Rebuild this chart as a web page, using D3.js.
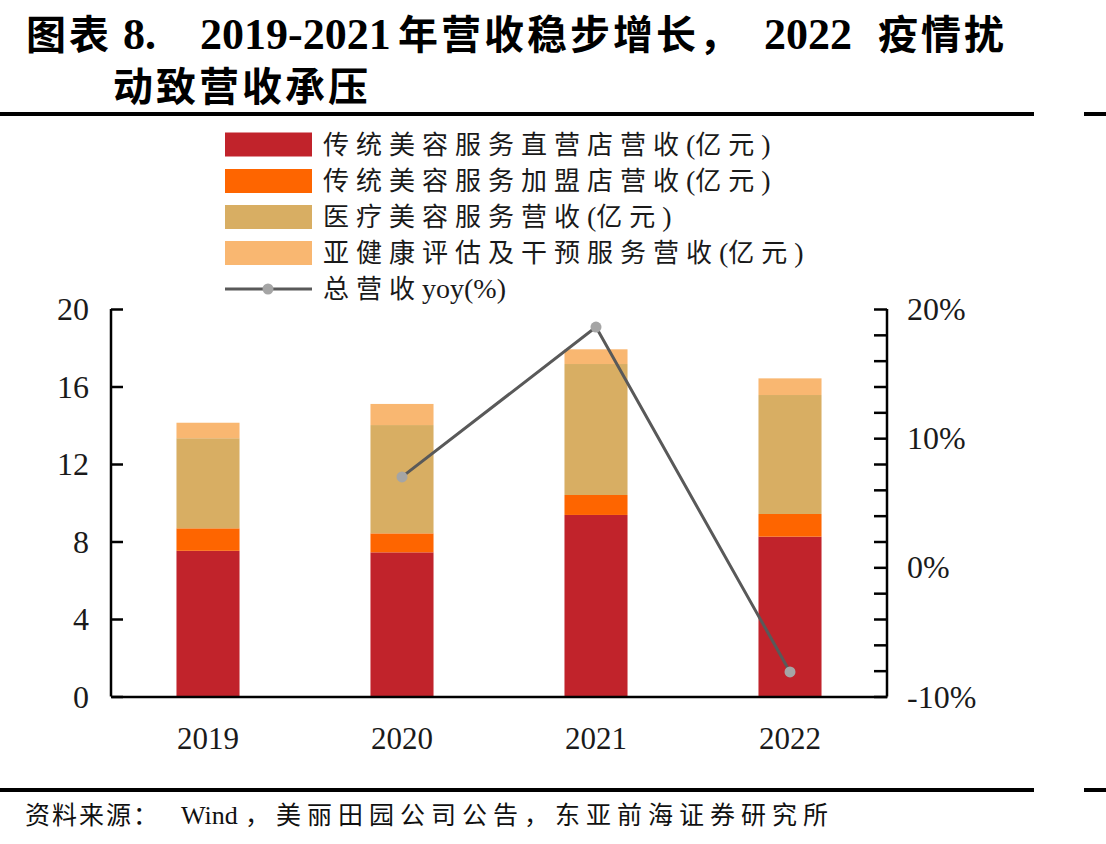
<!DOCTYPE html>
<html>
<head>
<meta charset="utf-8">
<script src="https://cdn.jsdelivr.net/npm/d3@7"></script>
<style>
  body { margin: 0; background: #fff; }
  svg { display: block; }
</style>
</head>
<body>
<svg id="chart" width="1106" height="844"></svg>
<script>
// data
const years = ["2019", "2020", "2021", "2022"];
const directStore = [7.52, 7.44, 9.37, 8.25];
const franchise = [1.16, 0.98, 1.03, 1.17];
const medical = [4.65, 5.59, 6.76, 6.14];
const subHealth = [0.80, 1.09, 0.76, 0.86];
const yoy = [null, 7.0, 18.6, -8.1];

const seriesNames = [
  "传统美容服务直营店营收(亿元)",
  "传统美容服务加盟店营收(亿元)",
  "医疗美容服务营收(亿元)",
  "亚健康评估及干预服务营收(亿元)"
];
const lineName = "总营收yoy(%)";
const colors = ["#C1232B", "#FE6500", "#D8AE63", "#F9B771"];
const leftTicks = [0, 4, 8, 12, 16, 20];
const rightTicks = d3.range(-10, 20.01, 2);
const rightLabels = [-10, 0, 10, 20];

const latin = "'Liberation Serif', 'Times New Roman', serif";
const cjk = "'Noto Sans CJK SC', sans-serif";

const svg = d3.select("#chart");

// split a label into CJK / latin runs so spacing only hits the CJK part
function addRuns(textSel, str, cjkSize, cjkSpacing, latinSize) {
  const parts = str.match(/[\u3000-\u9fff\uff00-\uffef]+|[^\u3000-\u9fff\uff00-\uffef]+/g);
  parts.forEach(p => {
    const isCjk = /[\u3000-\u9fff\uff00-\uffef]/.test(p);
    textSel.append("tspan")
      .style("font-family", isCjk ? cjk : latin)
      .style("font-size", (isCjk ? cjkSize : latinSize) + "px")
      .style("letter-spacing", isCjk ? cjkSpacing + "px" : "0px")
      .text(p);
  });
}

// title
const title = svg.append("g").style("font-weight", "bold").attr("fill", "#000");
const t1 = title.append("text").attr("y", 49);
[["图表", 26, true], ["8.", 123, false], ["2019-2021", 200, false],
 ["年营收稳步增长，", 398, true], ["2022", 764, false], ["疫情扰", 878, true]]
  .forEach(([s, px, isCjk]) => {
    t1.append("tspan").attr("x", px)
      .style("font-family", isCjk ? cjk : latin)
      .style("font-size", isCjk ? "40px" : "44px")
      .style("letter-spacing", isCjk ? "3px" : "0px")
      .text(s);
  });
title.append("text").attr("x", 113).attr("y", 101)
  .style("font-family", cjk).style("font-size", "40px")
  .style("letter-spacing", "3px")
  .text("动致营收承压");

// rules top and bottom
[114, 790].forEach(y => {
  svg.append("line").attr("x1", 0).attr("x2", 1034).attr("y1", y).attr("y2", y)
    .attr("stroke", "#000").attr("stroke-width", 4);
  svg.append("line").attr("x1", 1084).attr("x2", 1106).attr("y1", y).attr("y2", y)
    .attr("stroke", "#000").attr("stroke-width", 4);
});

// source
const src = svg.append("text").attr("y", 824).attr("fill", "#111");
[["资料来源：", 25, true, 2], ["Wind", 181, false, 0],
 ["，美丽田园公司公告，东亚前海证券研究所", 245, true, 6]]
  .forEach(([s, px, isCjk, ls]) => {
    src.append("tspan").attr("x", px)
      .style("font-family", isCjk ? cjk : latin)
      .style("font-size", isCjk ? "25px" : "26px")
      .style("letter-spacing", ls + "px")
      .text(s);
  });

// scales
const x = d3.scaleBand().domain(years).range([111, 887])
  .paddingInner(0.675).paddingOuter(0.3375);
const y = d3.scaleLinear().domain([0, 20]).range([696.5, 309]);
const y2 = d3.scaleLinear().domain([-10, 20]).range([696.5, 309]);

// stacked bars
const rows = years.map((yr, i) => ({
  year: yr, s0: directStore[i], s1: franchise[i], s2: medical[i], s3: subHealth[i]
}));
const stack = d3.stack().keys(["s0", "s1", "s2", "s3"])(rows);

svg.append("g").selectAll("g").data(stack).join("g")
  .attr("fill", (d, i) => colors[i])
  .selectAll("rect").data(d => d).join("rect")
  .attr("x", d => x(d.data.year))
  .attr("width", x.bandwidth())
  .attr("y", d => y(d[1]))
  .attr("height", d => y(d[0]) - y(d[1]));

// left axis
const leftAxis = svg.append("g").attr("transform", "translate(111,0)")
  .call(d3.axisRight(y).tickValues(leftTicks).tickSize(12).tickFormat(""));
leftAxis.selectAll(".domain").attr("d", "M0,309V696.5");
svg.append("g").selectAll("text").data(leftTicks).join("text")
  .attr("x", 89).attr("y", d => y(d) + 11)
  .attr("text-anchor", "end")
  .style("font-family", latin).style("font-size", "32px")
  .attr("fill", "#1a1a1a")
  .text(d => d);

// right axis
const rightAxis = svg.append("g").attr("transform", "translate(887,0)")
  .call(d3.axisLeft(y2).tickValues(rightTicks).tickSize(13).tickFormat(""));
rightAxis.selectAll(".domain").attr("d", "M0,309V696.5");
svg.append("g").selectAll("text").data(rightLabels).join("text")
  .attr("x", 907).attr("y", d => y2(d) + 11)
  .style("font-family", latin).style("font-size", "32px")
  .attr("fill", "#1a1a1a")
  .text(d => d + "%");

// bottom axis
const bottomAxis = svg.append("g").attr("transform", "translate(0,696.5)")
  .call(d3.axisBottom(x).tickSize(0).tickPadding(30));
bottomAxis.selectAll("text")
  .style("font-family", latin).style("font-size", "31px")
  .attr("fill", "#1a1a1a");

svg.selectAll(".domain, .tick line")
  .attr("stroke", "#000").attr("stroke-width", 2.5);

// yoy line
const pts = years.map((yr, i) => ({ year: yr, v: yoy[i] })).filter(d => d.v !== null);
const line = d3.line()
  .x(d => x(d.year) + x.bandwidth() / 2)
  .y(d => y2(d.v));
svg.append("path").datum(pts)
  .attr("fill", "none").attr("stroke", "#595959").attr("stroke-width", 3)
  .attr("d", line);
svg.append("g").selectAll("circle").data(pts).join("circle")
  .attr("cx", d => x(d.year) + x.bandwidth() / 2)
  .attr("cy", d => y2(d.v))
  .attr("r", 5.5)
  .attr("fill", "#A5A5A5");

// legend
const legend = svg.append("g").attr("fill", "#1a1a1a");
const legendY = [144.5, 181, 217, 253, 289];
seriesNames.forEach((name, i) => {
  legend.append("rect").attr("x", 225).attr("y", legendY[i] - 12)
    .attr("width", 87).attr("height", 24).attr("fill", colors[i]);
  addRuns(legend.append("text").attr("x", 323).attr("y", legendY[i] + 9), name, 26, 7, 28);
});
legend.append("line").attr("x1", 225).attr("x2", 312)
  .attr("y1", legendY[4]).attr("y2", legendY[4])
  .attr("stroke", "#595959").attr("stroke-width", 3);
legend.append("circle").attr("cx", 268).attr("cy", legendY[4]).attr("r", 5.5)
  .attr("fill", "#A5A5A5");
addRuns(legend.append("text").attr("x", 323).attr("y", legendY[4] + 9), lineName, 26, 7, 28);
</script>
</body>
</html>
